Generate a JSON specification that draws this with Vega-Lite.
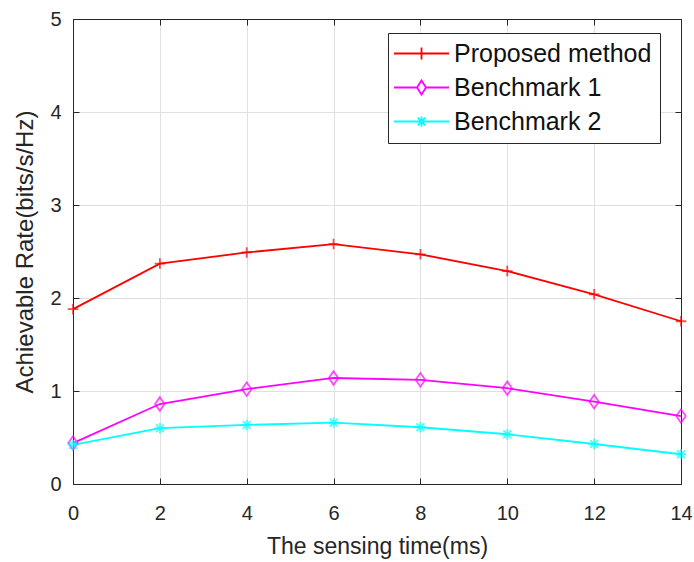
{
  "$schema": "https://vega.github.io/schema/vega-lite/v6.json",
  "width": 608,
  "height": 465,
  "autosize": {"type": "none"},
  "padding": {"left": 73, "top": 19, "right": 13, "bottom": 78},
  "background": "white",
  "config": {
    "view": {"stroke": null},
    "font": "Liberation Sans",
    "axis": {
      "labelFont": "Liberation Sans",
      "titleFont": "Liberation Sans",
      "labelColor": "#262626",
      "titleColor": "#262626",
      "domainColor": "#262626",
      "tickColor": "#262626",
      "gridColor": "#e0e0e0",
      "gridWidth": 1,
      "domainWidth": 1,
      "tickWidth": 1,
      "titleFontWeight": "normal",
      "labelFlush": false,
      "labelOverlap": false
    },
    "legend": {
      "labelFont": "Liberation Sans",
      "title": null,
      "orient": "none",
      "legendX": 315,
      "legendY": 14,
      "padding": 8,
      "strokeColor": "#262626",
      "fillColor": "white",
      "cornerRadius": 0,
      "labelFontSize": 25,
      "labelLimit": 400,
      "labelColor": "#111111",
      "symbolSize": 100,
      "symbolStrokeWidth": 1.8,
      "symbolOpacity": 1,
      "symbolOffset": 13,
      "labelOffset": 20,
      "rowPadding": 8
    }
  },
  "data": {
    "values": [
      {"t": 0, "series": "Proposed method", "rate": 1.88},
      {"t": 2, "series": "Proposed method", "rate": 2.37},
      {"t": 4, "series": "Proposed method", "rate": 2.49},
      {"t": 6, "series": "Proposed method", "rate": 2.58},
      {"t": 8, "series": "Proposed method", "rate": 2.47},
      {"t": 10, "series": "Proposed method", "rate": 2.29},
      {"t": 12, "series": "Proposed method", "rate": 2.04},
      {"t": 14, "series": "Proposed method", "rate": 1.75},
      {"t": 0, "series": "Benchmark 1", "rate": 0.44},
      {"t": 2, "series": "Benchmark 1", "rate": 0.86},
      {"t": 4, "series": "Benchmark 1", "rate": 1.02},
      {"t": 6, "series": "Benchmark 1", "rate": 1.14},
      {"t": 8, "series": "Benchmark 1", "rate": 1.12},
      {"t": 10, "series": "Benchmark 1", "rate": 1.03},
      {"t": 12, "series": "Benchmark 1", "rate": 0.885},
      {"t": 14, "series": "Benchmark 1", "rate": 0.73},
      {"t": 0, "series": "Benchmark 2", "rate": 0.42},
      {"t": 2, "series": "Benchmark 2", "rate": 0.60},
      {"t": 4, "series": "Benchmark 2", "rate": 0.635},
      {"t": 6, "series": "Benchmark 2", "rate": 0.66},
      {"t": 8, "series": "Benchmark 2", "rate": 0.61},
      {"t": 10, "series": "Benchmark 2", "rate": 0.535},
      {"t": 12, "series": "Benchmark 2", "rate": 0.43},
      {"t": 14, "series": "Benchmark 2", "rate": 0.32}
    ]
  },
  "resolve": {"axis": {"x": "independent", "y": "independent"}},
  "layer": [
    {
      "mark": {"type": "line", "strokeWidth": 1.8},
      "encoding": {
        "x": {
          "field": "t", "type": "quantitative",
          "scale": {"domain": [0, 14], "nice": false},
          "axis": {
            "orient": "bottom",
            "values": [0, 2, 4, 6, 8, 10, 12, 14],
            "title": "The sensing time(ms)",
            "labelFontSize": 20,
            "titleFontSize": 23,
            "tickSize": -6,
            "labelPadding": 25,
            "titlePadding": 12,
            "grid": true
          }
        },
        "y": {
          "field": "rate", "type": "quantitative",
          "scale": {"domain": [0, 5], "nice": false},
          "axis": {
            "orient": "left",
            "values": [0, 1, 2, 3, 4, 5],
            "title": "Achievable Rate(bits/s/Hz)",
            "labelFontSize": 20,
            "titleFontSize": 24,
            "tickSize": -6,
            "labelPadding": 18,
            "titlePadding": 12,
            "grid": true
          }
        },
        "color": {
          "field": "series", "type": "nominal",
          "scale": {
            "domain": ["Proposed method", "Benchmark 1", "Benchmark 2"],
            "range": ["#ff0000", "#ff00ff", "#00ffff"]
          }
        }
      }
    },
    {
      "transform": [{"filter": "datum.series === 'Proposed method'"}],
      "mark": {"type": "point", "filled": false, "strokeWidth": 1.8, "shape": "M-1,0H1M0,-1V1", "size": 110},
      "encoding": {
        "x": {
          "field": "t", "type": "quantitative",
          "axis": {"orient": "top", "values": [0, 2, 4, 6, 8, 10, 12, 14], "labels": false, "title": null, "tickSize": -6, "grid": false}
        },
        "y": {
          "field": "rate", "type": "quantitative",
          "axis": {"orient": "right", "values": [0, 1, 2, 3, 4, 5], "labels": false, "title": null, "tickSize": -6, "grid": false}
        },
        "color": {"field": "series", "type": "nominal"}
      }
    },
    {
      "transform": [{"filter": "datum.series === 'Benchmark 1'"}],
      "mark": {"type": "point", "filled": false, "strokeWidth": 1.8, "shape": "M0,-1.3L0.9,0L0,1.3L-0.9,0Z", "size": 110},
      "encoding": {
        "x": {"field": "t", "type": "quantitative", "axis": null},
        "y": {"field": "rate", "type": "quantitative", "axis": null},
        "color": {"field": "series", "type": "nominal"}
      }
    },
    {
      "transform": [{"filter": "datum.series === 'Benchmark 2'"}],
      "mark": {"type": "point", "filled": false, "strokeWidth": 1.8, "shape": "M-1,0H1M0,-1V1M-0.75,-0.75L0.75,0.75M-0.75,0.75L0.75,-0.75", "size": 110},
      "encoding": {
        "x": {"field": "t", "type": "quantitative", "axis": null},
        "y": {"field": "rate", "type": "quantitative", "axis": null},
        "color": {"field": "series", "type": "nominal"}
      }
    },
    {
      "mark": {"type": "point", "filled": false, "strokeWidth": 1.8, "opacity": 0, "size": 100},
      "encoding": {
        "x": {"field": "t", "type": "quantitative", "axis": null},
        "y": {"field": "rate", "type": "quantitative", "axis": null},
        "color": {"field": "series", "type": "nominal"},
        "shape": {
          "field": "series", "type": "nominal",
          "scale": {
            "domain": ["Proposed method", "Benchmark 1", "Benchmark 2"],
            "range": ["M-5.5,0H5.5M0,-1.2V1.2", "M-5.5,0H-0.9M0.9,0H5.5M0,-1.4L0.9,0L0,1.4L-0.9,0Z", "M-5.5,0H5.5M0,-1V1M-0.75,-0.75L0.75,0.75M-0.75,0.75L0.75,-0.75"]
          }
        }
      }
    }
  ]
}
